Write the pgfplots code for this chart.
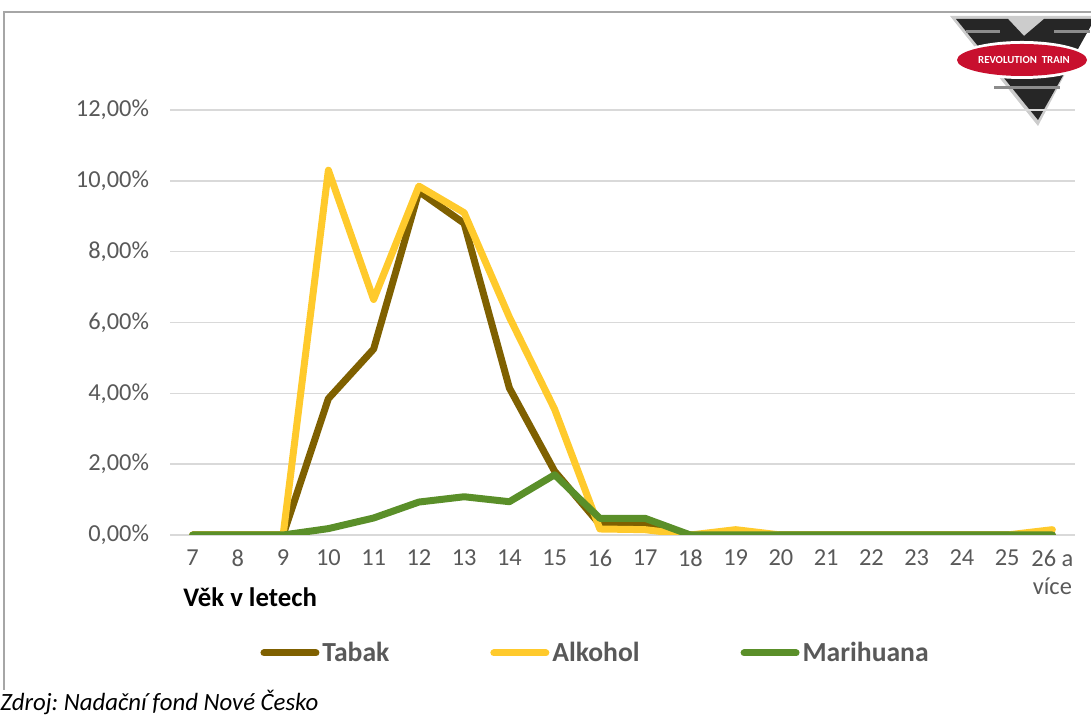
\documentclass[border=0pt]{standalone}
\usepackage{pgfplots}
\pgfplotsset{compat=1.18}
\usepackage{fontspec}
\setmainfont{Carlito}
\frenchspacing
\definecolor{tabak}{HTML}{7F6000}
\definecolor{alko}{HTML}{FFCA2C}
\definecolor{mari}{HTML}{5A8F29}
\definecolor{txt}{HTML}{595959}
\definecolor{grd}{HTML}{D9D9D9}
\definecolor{logored}{HTML}{C8102E}
\begin{document}
\begin{tikzpicture}
\path[use as bounding box] (0,0) rectangle (545.5pt,358pt);
% outer border
\draw[color=black!35, line width=0.8pt] (2pt,13pt) -- (2pt,352pt) -- (546pt,352pt);
% logo
\begin{scope}
\fill[black!20] (475pt,350pt) -- (546pt,350pt) -- (546pt,347pt) -- (519pt,295pt) -- cycle;
\fill[black!85] (478pt,348.5pt) -- (504pt,348.5pt) -- (512pt,340pt) -- (522pt,348.5pt) -- (546pt,348.5pt) -- (546pt,346pt) -- (519pt,298pt) -- cycle;
\draw[black!45, line width=1.5pt] (483pt,342pt) -- (500pt,342pt);
\draw[black!45, line width=1.5pt] (527pt,342pt) -- (545pt,342pt);
\draw[black!45, line width=1.5pt] (497pt,314pt) -- (530pt,314pt);
\fill[white] (511pt,328pt) ellipse [x radius=34pt, y radius=9.5pt];
\fill[logored] (511pt,328pt) ellipse [x radius=32.5pt, y radius=8pt];
\node[text=white, font=\fontsize{5.4}{6}\selectfont\bfseries] at (512pt,328pt) {REVOLUTION\ \ TRAIN};
\end{scope}
\begin{axis}[
  at={(85pt,90.5pt)}, anchor=south west,
  scale only axis, width=452.5pt, height=212.5pt,
  xmin=6.5, xmax=26.5, ymin=0, ymax=12,
  axis line style={draw=none},
  major tick length=0pt,
  ymajorgrids, grid style={grd, line width=0.8pt},
  xtick={7,...,26},
  xticklabels={7,8,9,10,11,12,13,14,15,16,17,18,19,20,21,22,23,24,25,{26 a\\více}},
  ytick={0,2,4,6,8,10,12},
  yticklabels={{0,00\%},{2,00\%},{4,00\%},{6,00\%},{8,00\%},{10,00\%},{12,00\%}},
  ticklabel style={font=\fontsize{12.2}{13.8}\selectfont, text=txt},
  xticklabel style={align=center, yshift=-4pt},
  yticklabel style={xshift=-7pt},
  legend columns=3,
  legend style={at={(axis description cs:0.0929,-0.2776)}, anchor=west, draw=none, fill=none,
    font=\fontsize{13.8}{16}\selectfont\bfseries, text=txt,
    /tikz/every even column/.append style={column sep=49pt},
    nodes={inner xsep=1.5pt}},
  legend image code/.code={\draw[#1, line cap=round] (0pt,0pt) -- (26pt,0pt);},
  every axis plot/.append style={line width=3.5pt, line join=round, line cap=round},
]
\addplot[tabak] coordinates {(7,0)(8,0)(9,0)(10,3.85)(11,5.25)(12,9.7)(13,8.8)(14,4.15)(15,1.8)(16,0.3)(17,0.3)(18,0)(19,0)(20,0)(21,0)(22,0)(23,0)(24,0)(25,0)(26,0)};
\addlegendentry{Tabak}
\addplot[alko] coordinates {(7,0)(8,0)(9,0)(10,10.3)(11,6.65)(12,9.85)(13,9.1)(14,6.15)(15,3.55)(16,0.17)(17,0.15)(18,0)(19,0.15)(20,0)(21,0)(22,0)(23,0)(24,0)(25,0)(26,0.15)};
\addlegendentry{Alkohol}
\addplot[mari] coordinates {(7,0)(8,0)(9,0)(10,0.18)(11,0.48)(12,0.93)(13,1.08)(14,0.94)(15,1.7)(16,0.47)(17,0.47)(18,0)(19,0)(20,0)(21,0)(22,0)(23,0)(24,0)(25,0)(26,0)};
\addlegendentry{Marihuana}
\end{axis}
\node[anchor=west, inner sep=0pt, font=\fontsize{13.4}{15}\selectfont\bfseries] at (91.5pt,59.5pt) {Věk v letech};
\node[anchor=base west, inner sep=0pt, font=\fontsize{12.4}{14}\selectfont\itshape] at (0pt,2.8pt) {Zdroj: Nadační fond Nové Česko};
\end{tikzpicture}
\end{document}
